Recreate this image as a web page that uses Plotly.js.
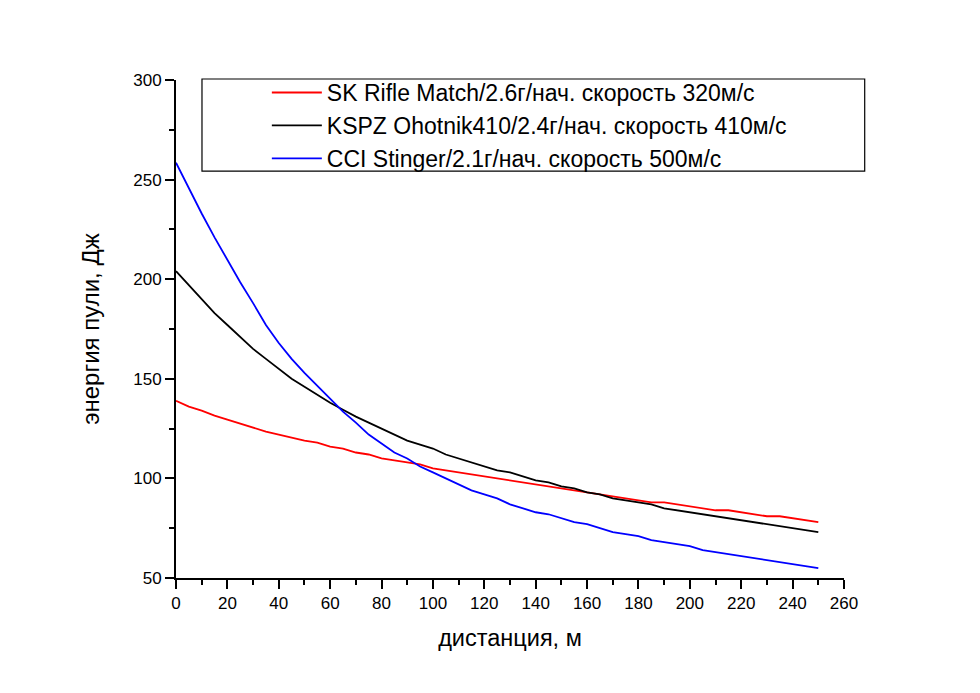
<!DOCTYPE html>
<html><head><meta charset="utf-8">
<script src="https://cdn.plot.ly/plotly-3.0.1.min.js"></script>
<style>html,body{margin:0;padding:0;background:#fff}#chart{width:980px;height:693px}</style>
</head><body><div id="chart"></div>
<script>
const distance = [0,5,10,15,20,25,30,35,40,45,50,55,60,65,70,75,80,85,90,95,100,105,110,115,120,125,130,135,140,145,150,155,160,165,170,175,180,185,190,195,200,205,210,215,220,225,230,235,240,245,250];
const skRifle = [139,136,134,131.5,129.5,127.5,125.5,123.5,122,120.5,119,118,116,115,113,112,110,109,108,107,105,104,103,102,101,100,99,98,97,96,95,94,93,92,91,90,89,88,88,87,86,85,84,84,83,82,81,81,80,79,78];
const kspz = [204,197,190,183,177,171,165,160,155,150,146,142,138,134.5,131,128,125,122,119,117,115,112,110,108,106,104,103,101,99,98,96,95,93,92,90,89,88,87,85,84,83,82,81,80,79,78,77,76,75,74,73];
const cci = [258.5,245.5,233,221,209.5,198.5,188,177,168,160,153,146.5,140,133.5,128,122,117.5,113,110,106,103,100,97,94,92,90,87,85,83,82,80,78,77,75,73,72,71,69,68,67,66,64,63,62,61,60,59,58,57,56,55];
const seriesNames = ["SK Rifle Match/2.6г/нач. скорость 320м/с","KSPZ Ohotnik410/2.4г/нач. скорость 410м/с","CCI Stinger/2.1г/нач. скорость 500м/с"];
const colors = ["#ff0000","#000000","#0000ff"];
const ys = [skRifle,kspz,cci];
const traces = ys.map((y,i)=>({x:distance,y:y,type:'scatter',mode:'lines',name:seriesNames[i],line:{color:colors[i],width:1.8}}));
const font = {family:'"Liberation Sans", Arial, sans-serif', color:'#000'};
const layout = {
  width:980,height:693,
  margin:{l:176,r:136,t:80,b:115},
  paper_bgcolor:'#fff',plot_bgcolor:'#fff',
  font:Object.assign({size:17},font),
  showlegend:true,
  legend:{x:0.136,y:1.018,xanchor:'left',yanchor:'top',bgcolor:'rgba(0,0,0,0)',borderwidth:0,itemwidth:50,font:Object.assign({size:23},font),tracegroupgap:0},
  shapes:[{type:'rect',xref:'paper',yref:'paper',x0:0.0389,x1:1.031,y0:0.817,y1:1.002,line:{color:'#000',width:1.2},fillcolor:'#fff',layer:'above'}],
  xaxis:{range:[0,260],dtick:20,tick0:0,showgrid:false,zeroline:false,showline:true,linecolor:'#000',linewidth:2,
    ticks:'outside',ticklen:9,tickwidth:2,tickcolor:'#000',tickfont:Object.assign({size:17},font),
    minor:{dtick:10,ticks:'outside',ticklen:5,tickwidth:2,tickcolor:'#000'},
    title:{text:'дистанция, м',font:Object.assign({size:23.5},font),standoff:17}},
  yaxis:{range:[50,300],dtick:50,tick0:50,showgrid:false,zeroline:false,showline:true,linecolor:'#000',linewidth:2,
    ticks:'outside',ticklen:9,tickwidth:2,tickcolor:'#000',tickfont:Object.assign({size:17},font),
    minor:{dtick:25,ticks:'outside',ticklen:5,tickwidth:2,tickcolor:'#000'},
    title:{text:'энергия пули, Дж',font:Object.assign({size:24},font),standoff:27}}
};
Plotly.newPlot('chart',traces,layout,{staticPlot:true});
</script></body></html>
